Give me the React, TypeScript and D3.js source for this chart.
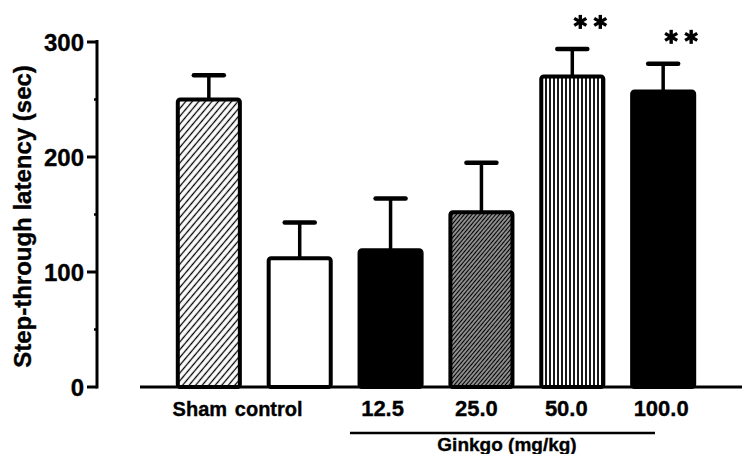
import React from 'react';
import * as d3 from 'd3';

// groups, mean latency and mean + SEM
const groups = ['Sham', 'control', '12.5', '25.0', '50.0', '100.0'];
const means = [250, 112, 119, 152, 270, 257];
const upper = [271, 143, 164, 195, 294, 281];
const fills = ['url(#hatchWide)', '#fff', '#000', 'url(#hatchDense)', 'url(#vlines)', '#000'];
const starred = ['50.0', '100.0'];
const yTicks = [0, 100, 200, 300];
const yMinor = [50, 150, 250];

const W = 742;
const H = 454;
// nudges of the category labels relative to bar centres (layout only)
const labelShift = [-9, -31, -8, -5, -6, -2];
const font = '"Liberation Sans", Arial, Helvetica, sans-serif';

export default function App() {
  const y = d3.scaleLinear().domain([0, 300]).range([387, 42]);
  const x = d3.scaleBand<string>().domain(groups).range([149, 723]).padding(0.317);
  const bw = x.bandwidth();

  const star = (cx: number, cy: number, key: string) => {
    const r = 7;
    return (
      <g key={key} stroke="#000" strokeWidth={3.4} strokeLinecap="butt">
        {[90, 30, 150].map(a => {
          const t = (a * Math.PI) / 180;
          return <line key={a} x1={cx - r * Math.cos(t)} y1={cy - r * Math.sin(t)}
            x2={cx + r * Math.cos(t)} y2={cy + r * Math.sin(t)} />;
        })}
      </g>
    );
  };

  const txt = { fontFamily: font, fontWeight: 'bold' as const, stroke: '#000', strokeWidth: 0.35 };

  return (
    <svg width={W} height={H} style={{ position: 'absolute', left: 0, top: 0, background: '#fff' }}>
      <defs>
        <pattern id="hatchWide" width={5} height={5} patternUnits="userSpaceOnUse" patternTransform="rotate(40)">
          <rect width={5} height={5} fill="#fff" />
          <line x1={2.5} y1={0} x2={2.5} y2={5} stroke="#000" strokeWidth={1.3} />
        </pattern>
        <pattern id="hatchDense" width={3} height={3} patternUnits="userSpaceOnUse" patternTransform="rotate(40)">
          <rect width={3} height={3} fill="#fff" />
          <line x1={1.5} y1={0} x2={1.5} y2={3} stroke="#000" strokeWidth={1.9} />
        </pattern>
        <pattern id="vlines" width={4} height={4} patternUnits="userSpaceOnUse">
          <rect width={4} height={4} fill="#fff" />
          <line x1={2} y1={0} x2={2} y2={4} stroke="#000" strokeWidth={1.8} />
        </pattern>
      </defs>

      {/* y axis */}
      <line x1={97} x2={97} y1={y(300) - 2} y2={y(0) + 1.5} stroke="#000" strokeWidth={3} />
      {yTicks.map(t => (
        <g key={t}>
          <line x1={87} x2={97} y1={y(t)} y2={y(t)} stroke="#000" strokeWidth={3} />
          <text x={84} y={y(t) + 8.5} textAnchor="end" fontSize={24} {...txt}>{t}</text>
        </g>
      ))}
      {yMinor.map(t => (
        <line key={t} x1={94} x2={97} y1={y(t)} y2={y(t)} stroke="#000" strokeWidth={2.5} />
      ))}
      <text transform={`translate(31,${(y(0) + y(300)) / 2 + 2}) rotate(-90)`} textAnchor="middle"
        fontSize={24} {...txt}>Step-through latency (sec)</text>

      {/* bars */}
      {groups.map((g, i) => {
        const x0 = x(g)!;
        const cx = x0 + bw / 2;
        return (
          <g key={g}>
            <line x1={cx} x2={cx} y1={y(means[i])} y2={y(upper[i])} stroke="#000" strokeWidth={3.5} />
            <line x1={cx - 15} x2={cx + 15} y1={y(upper[i])} y2={y(upper[i])} stroke="#000" strokeWidth={4.5} strokeLinecap="round" />
            <rect x={x0} y={y(means[i])} width={bw} height={y(0) - y(means[i])} rx={2.5}
              fill={fills[i]} stroke="#000" strokeWidth={4} />
          </g>
        );
      })}

      {/* baseline */}
      <line x1={140} x2={W} y1={y(0)} y2={y(0)} stroke="#000" strokeWidth={3} />

      {/* significance marks */}
      {groups.map((g, i) => starred.includes(g)
        ? [star(x(g)! + bw / 2 + 8, y(upper[i]) - 27, g + 'a'), star(x(g)! + bw / 2 + 28, y(upper[i]) - 27, g + 'b')]
        : null)}

      {/* category labels */}
      {groups.map((g, i) => (
        <text key={g} x={x(g)! + bw / 2 + labelShift[i]} y={416} textAnchor="middle"
          fontSize={i < 2 ? 20 : 22} {...txt}>{g}</text>
      ))}
      <line x1={350} x2={655} y1={433} y2={433} stroke="#000" strokeWidth={2.5} />
      <text x={507} y={451} textAnchor="middle" fontSize={19} {...txt}>Ginkgo (mg/kg)</text>
    </svg>
  );
}
